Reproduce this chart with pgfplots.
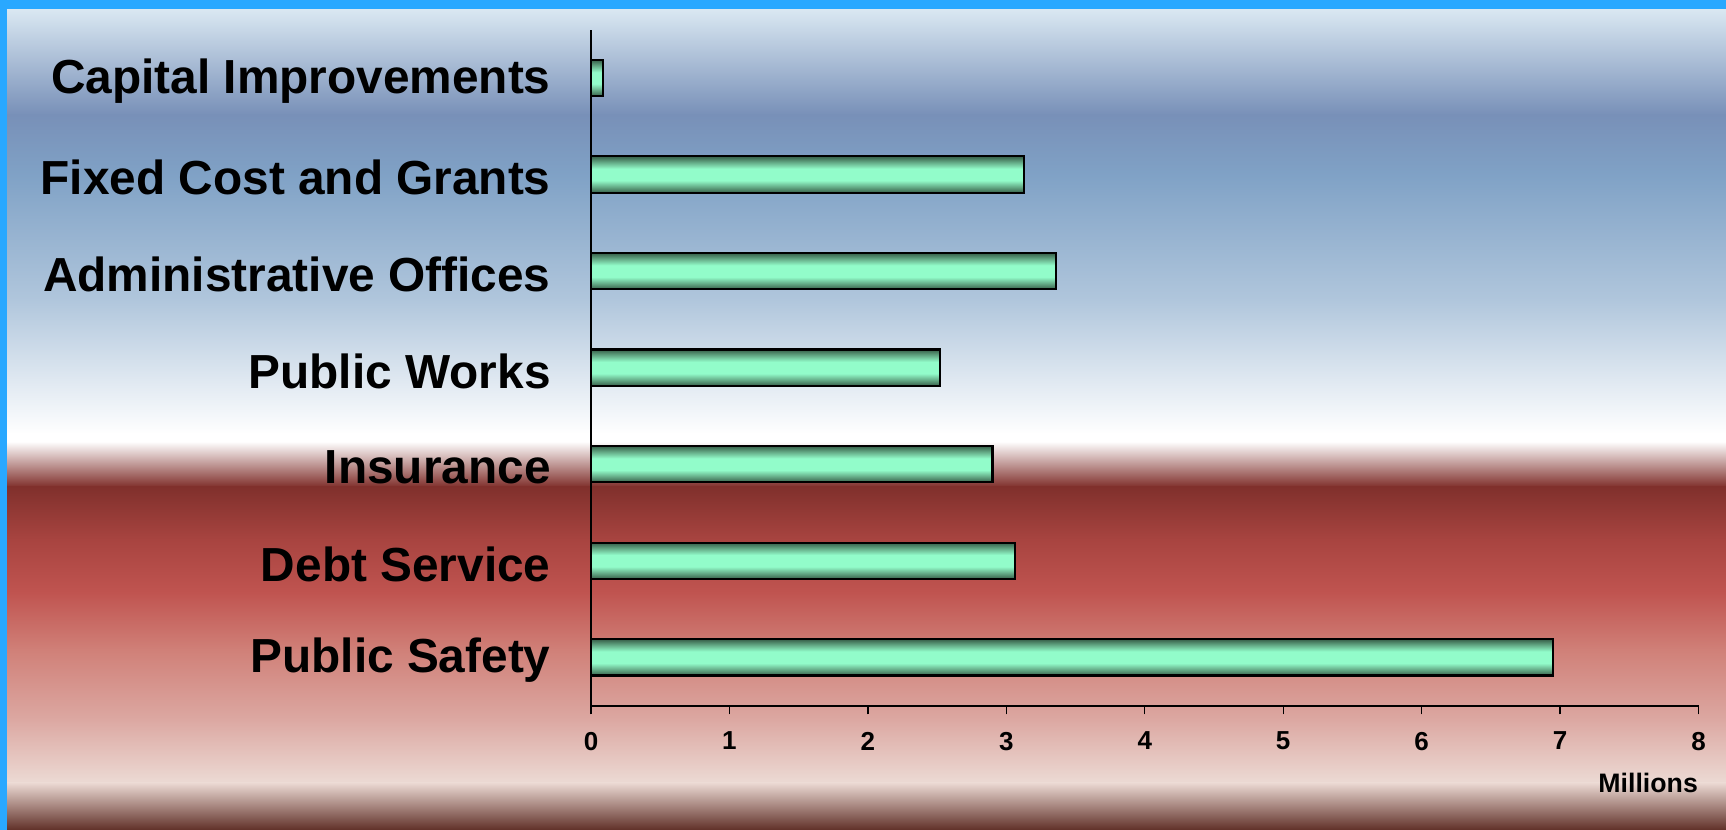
\documentclass[border=0pt]{standalone}
\usepackage{pgfplots}
\pgfplotsset{compat=1.18}
\usepackage{fontspec}
\setmainfont{Liberation Sans}
\definecolor{bord}{RGB}{41,168,255}
\definecolor{b0}{RGB}{218,232,242}
\definecolor{b1}{RGB}{120,144,184}
\definecolor{b2}{RGB}{128,162,198}
\definecolor{b3}{RGB}{176,198,220}
\definecolor{r0}{RGB}{128,48,44}
\definecolor{r1}{RGB}{168,68,64}
\definecolor{r2}{RGB}{192,84,80}
\definecolor{r3}{RGB}{208,128,120}
\definecolor{r4}{RGB}{220,168,162}
\definecolor{r5}{RGB}{236,218,212}
\definecolor{r6}{RGB}{96,48,40}
\definecolor{bardark}{RGB}{60,104,80}
\definecolor{barmid}{RGB}{100,170,134}
\definecolor{barlight}{RGB}{146,252,202}
\pgfdeclareverticalshading{barshade}{100bp}{color(0bp)=(bardark); color(26bp)=(bardark); color(33bp)=(barmid); color(42bp)=(barlight); color(58bp)=(barlight); color(67bp)=(barmid); color(74bp)=(bardark); color(100bp)=(bardark)}
\begin{document}
\begin{tikzpicture}[x=0.1mm,y=0.1mm]
\useasboundingbox (0,0) rectangle (1726,830);
% background gradient (y measured from top: tikz y = 830 - img y)
\shade[top color=b0,bottom color=b1] (0,821) rectangle (1726,715);
\shade[top color=b1,bottom color=b2] (0,715.5) rectangle (1726,654);
\shade[top color=b2,bottom color=b3] (0,654.5) rectangle (1726,530);
\shade[top color=b3,bottom color=white] (0,530.5) rectangle (1726,396);
\fill[white] (0,396.5) rectangle (1726,388);
\shade[top color=white,bottom color=r0] (0,388.5) rectangle (1726,343);
\shade[top color=r0,bottom color=r1] (0,343.5) rectangle (1726,290);
\shade[top color=r1,bottom color=r2] (0,290.5) rectangle (1726,237);
\shade[top color=r2,bottom color=r3] (0,237.5) rectangle (1726,180);
\shade[top color=r3,bottom color=r4] (0,180.5) rectangle (1726,110);
\shade[top color=r4,bottom color=r5] (0,110.5) rectangle (1726,47);
\shade[top color=r5,bottom color=r6] (0,47.5) rectangle (1726,0);
\fill[bord] (0,821) rectangle (1726,830);
\fill[bord] (0,0) rectangle (7,830);
\begin{axis}[
  at={(59.1mm,12.44mm)}, anchor=south west,
  scale only axis, width=110.76mm, height=67.59mm,
  xmin=0, xmax=8, ymin=-0.5, ymax=6.5,
  axis x line=bottom, axis y line=left,
  x axis line style={-, line width=0.6pt},
  y axis line style={-, line width=0.4pt},
  xtick={0,1,...,8}, tick align=outside,
  major tick length=0.87mm,
  x tick style={line width=0.4pt, black},
  ytick={0,1,2,3,4,5,6},
  y tick style={draw=none},
  yticklabels={Public Safety,Debt Service,Insurance,Public Works,Administrative Offices,Fixed Cost and Grants,Capital Improvements},
  yticklabel style={anchor=east, inner sep=0pt, xshift=-3.1mm, yshift=-0.33mm, font=\fontsize{13.6}{15}\selectfont\bfseries},
  /pgf/number format/assume math mode=true,
  xticklabel style={anchor=north, inner sep=0pt, yshift=-1.7mm, font=\fontsize{7.4}{8}\selectfont\bfseries},
  clip=false,
  barstyle/.style={xbar, bar width=3.63mm, bar shift=0pt, draw=black, line width=0.6pt,
    shading=barshade},
]
\addplot[barstyle] coordinates {(6.95,0)};
\addplot[barstyle] coordinates {(3.06,1)};
\addplot[barstyle] coordinates {(2.90,2)};
\addplot[barstyle] coordinates {(2.52,3)};
\addplot[barstyle] coordinates {(3.36,4)};
\addplot[barstyle] coordinates {(3.13,5)};
\addplot[barstyle] coordinates {(0.087,6)};
\node[anchor=east, inner sep=0pt, font=\fontsize{7.6}{8}\selectfont\bfseries] at ([yshift=-7.74mm]rel axis cs:1,0) {Millions};
\end{axis}
\end{tikzpicture}
\end{document}
